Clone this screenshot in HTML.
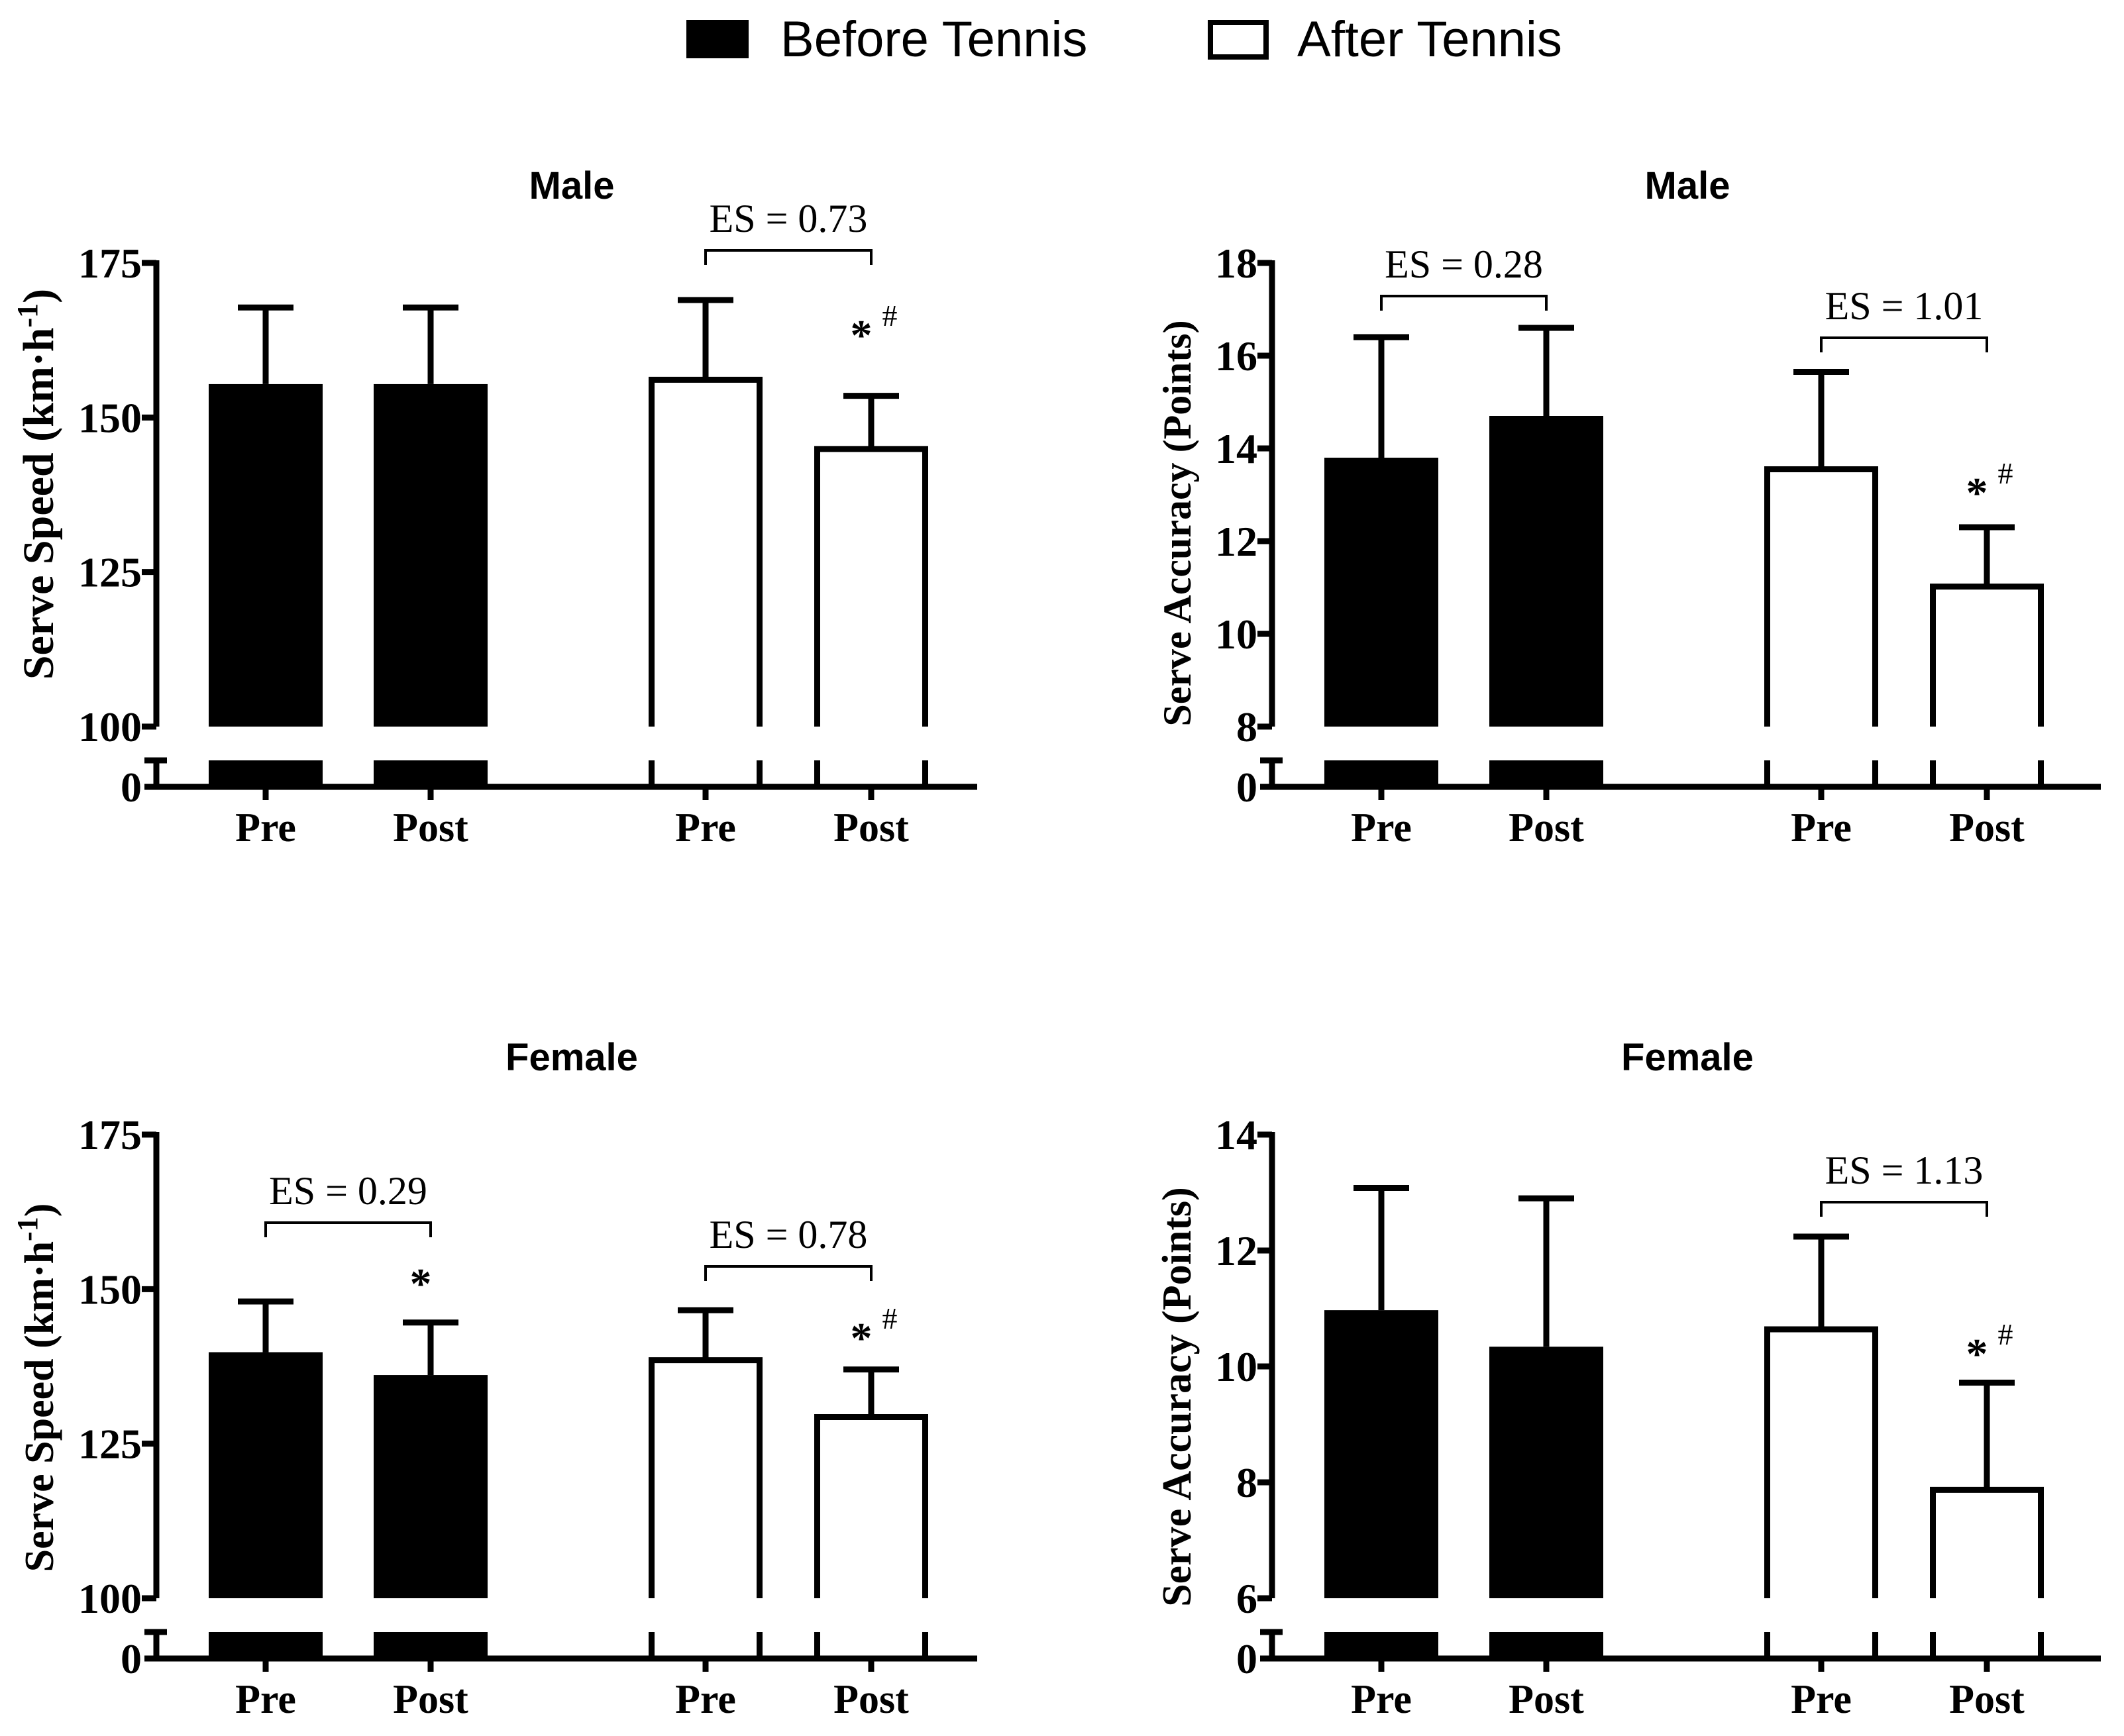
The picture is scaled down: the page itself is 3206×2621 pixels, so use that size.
<!DOCTYPE html>
<html><head><meta charset="utf-8"><style>
html,body{margin:0;padding:0;background:#fff;}
svg{display:block;}
</style></head><body>
<svg id="chart" width="3206" height="2621" viewBox="0 0 3206 2621" xmlns="http://www.w3.org/2000/svg">
<g>
<rect x="1036" y="30" width="94" height="58" fill="#000"/>
<text x="1178" y="85" font-family="Liberation Sans, sans-serif" font-size="76">Before Tennis</text>
<rect x="1827" y="34" width="84" height="52" fill="#fff" stroke="#000" stroke-width="8"/>
<text x="1958" y="85" font-family="Liberation Sans, sans-serif" font-size="76">After Tennis</text>
</g>
</svg>
<script>
const categories = ["Pre", "Post", "Pre", "Post"];
const groups = ["before", "before", "after", "after"];
const titles = ["Male", "Male", "Female", "Female"];
const yLabels = ["Serve Speed (km·h-1)", "Serve Accuracy (Points)", "Serve Speed (km·h-1)", "Serve Accuracy (Points)"];
const ticksTL = [100, 125, 150, 175];
const ticksTR = [8, 10, 12, 14, 16, 18];
const ticksBL = [100, 125, 150, 175];
const ticksBR = [6, 8, 10, 12, 14];
const meansTL = [155.4, 155.4, 156.1, 144.9];
const errTL = [167.8, 167.8, 169.0, 153.5];
const meansTR = [13.8, 14.7, 13.55, 11.02];
const errTR = [16.4, 16.6, 15.65, 12.3];
const meansBL = [139.8, 136.1, 138.5, 129.3];
const errBL = [148.0, 144.6, 146.6, 137.0];
const meansBR = [10.97, 10.34, 10.64, 7.87];
const errBR = [13.08, 12.9, 12.24, 9.72];
const esTL = ["ES = 0.73"];
const esTR = ["ES = 0.28", "ES = 1.01"];
const esBL = ["ES = 0.29", "ES = 0.78"];
const esBR = ["ES = 1.13"];

const NS = "http://www.w3.org/2000/svg";
const svg = document.getElementById("chart");
function mk(tag, attrs, parent) {
  const e = document.createElementNS(NS, tag);
  for (const k in attrs) e.setAttribute(k, attrs[k]);
  (parent || svg).appendChild(e);
  return e;
}
const SERIF = "Liberation Serif, serif";

function panel(p) {
  const g = mk("g", {});
  
  
  const dx = p.dx, dy = p.dy;
  const ax = 236 + dx;
  const yTop = 397 + dy, yMin = 1097 + dy, brk = 1148 + dy, base = 1188 + dy;
  const centers = [401, 650, 1065, 1315].map(c => c + dx);
  const bw = 172;
  const lo = p.ticks[0], hi = p.ticks[p.ticks.length - 1];
  const y = v => yMin - (v - lo) / (hi - lo) * (yMin - yTop);
  const sw = 9;
  const t = mk("text", {x: 863 + dx, y: 300 + dy, "text-anchor": "middle", "font-family": "Liberation Sans, sans-serif", "font-weight": "bold", "font-size": "58"}, g);
  t.textContent = p.title;
  
  
  const ly = mk("text", {x: 0, y: 0, "text-anchor": "middle", "font-family": SERIF, "font-weight": "bold", "font-size": p.lfs, transform: `translate(${p.lx + dx},${p.lyc + dy}) rotate(-90)`}, g);
  
  
  if (p.ylabel.indexOf("km") >= 0) {
    ly.innerHTML = 'Serve Speed (km·h<tspan dy="-24" font-size="44">-1</tspan><tspan dy="24">)</tspan>';
  } else {
    ly.textContent = p.ylabel;
  }
  for (let i = 0; i < 4; i++) {
    const c = centers[i], x0 = c - bw / 2, x1 = c + bw / 2;
    const yv = y(p.means[i]), ye = y(p.err[i]);
    const el = mk("path", {d: `M${c},${yv} V${ye} M${c - 42},${ye} H${c + 42}`, stroke: "#000", "stroke-width": sw, fill: "none"}, g);
    
    
    if (groups[i] === "before") {
      const r = mk("rect", {x: x0, y: yv, width: bw, height: yMin - yv, fill: "#000"}, g);
      
      
      const r2 = mk("rect", {x: x0, y: brk, width: bw, height: base - brk, fill: "#000"}, g);
      
      
    } else {
      const r = mk("path", {d: `M${x0 + sw / 2},${yMin} V${yv} H${x1 - sw / 2} V${yMin} M${x0 + sw / 2},${brk} V${base} M${x1 - sw / 2},${brk} V${base}`, stroke: "#000", "stroke-width": sw, fill: "#fff"}, g);
      
      
    }
    const xt = mk("line", {x1: c, x2: c, y1: base, y2: base + 20, stroke: "#000", "stroke-width": sw}, g);
    
    
    const xl = mk("text", {x: c, y: base + 82, "text-anchor": "middle", "font-family": SERIF, "font-weight": "bold", "font-size": "62"}, g);
    xl.textContent = categories[i];
    
    
  }
  const ya = mk("path", {d: `M${ax},${yTop - 4} V${yMin} M${ax},${brk} V${base} M${ax - 18},${brk} H${ax + 16}`, stroke: "#000", "stroke-width": sw, fill: "none"}, g);
  
  
  const xa = mk("line", {x1: ax - 18, x2: p.xEnd, y1: base, y2: base, stroke: "#000", "stroke-width": sw}, g);
  
  
  const allTicks = p.ticks.map(v => [v, y(v)]).concat([[0, base]]);
  allTicks.forEach(([v, yy]) => {
    if (v !== 0) {
      const tk = mk("line", {x1: ax - 22, x2: ax, y1: yy, y2: yy, stroke: "#000", "stroke-width": sw}, g);
      
      
    }
    const tl = mk("text", {x: ax - 22, y: yy + 22, "text-anchor": "end", "font-family": SERIF, "font-weight": "bold", "font-size": "64"}, g);
    tl.textContent = v;
    
    
  });
  p.ann.forEach((a, k) => {
    const c0 = centers[a.i], c1 = centers[a.j];
    const b = mk("path", {d: `M${c0},${a.by + 22 + dy} V${a.by + dy} H${c1} V${a.by + 22 + dy}`, stroke: "#000", "stroke-width": 4, fill: "none"}, g);
    
    
    const tx = mk("text", {x: (c0 + c1) / 2, y: a.by - 28 + dy, "text-anchor": "middle", "font-family": SERIF, "font-size": "60"}, g);
    tx.textContent = p.es[k];
    
    
  });
  p.marks.forEach(m => {
    const c = centers[m.i];
    const s = mk("text", {x: c - 15, y: m.y + 50 + dy, "text-anchor": "middle", "font-family": SERIF, "font-weight": "bold", "font-size": "66"}, g);
    s.textContent = "*";
    
    
    if (m.hash) {
      const h = mk("text", {x: c + 28, y: m.y + 14 + dy, "text-anchor": "middle", "font-family": SERIF, "font-size": "46"}, g);
      h.textContent = "#";
      
      
    }
  });
}

panel({name: "panel-male-speed", dx: 0, dy: 0, ticks: ticksTL, means: meansTL, err: errTL, title: titles[0], ylabel: yLabels[0], lx: 80, lyc: 731, lfs: 66, xEnd: 1475,
  es: esTL, ann: [{i: 2, j: 3, by: 378}], marks: [{i: 3, y: 478, hash: true}]});
panel({name: "panel-male-accuracy", dx: 1684, dy: 0, ticks: ticksTR, means: meansTR, err: errTR, title: titles[1], ylabel: yLabels[1], lx: 113, lyc: 790, lfs: 60, xEnd: 3171,
  es: esTR, ann: [{i: 0, j: 1, by: 447}, {i: 2, j: 3, by: 510}], marks: [{i: 3, y: 716, hash: true}]});
panel({name: "panel-female-speed", dx: 0, dy: 1316, ticks: ticksBL, means: meansBL, err: errBL, title: titles[2], ylabel: yLabels[2], lx: 80, lyc: 779, lfs: 62, xEnd: 1475,
  es: esBL, ann: [{i: 0, j: 1, by: 530}, {i: 2, j: 3, by: 596}], marks: [{i: 1, y: 594, hash: false}, {i: 3, y: 676, hash: true}]});
panel({name: "panel-female-accuracy", dx: 1684, dy: 1316, ticks: ticksBR, means: meansBR, err: errBR, title: titles[3], ylabel: yLabels[3], lx: 113, lyc: 793, lfs: 62, xEnd: 3171,
  es: esBR, ann: [{i: 2, j: 3, by: 499}], marks: [{i: 3, y: 700, hash: true}]});
</script>
</body></html>
